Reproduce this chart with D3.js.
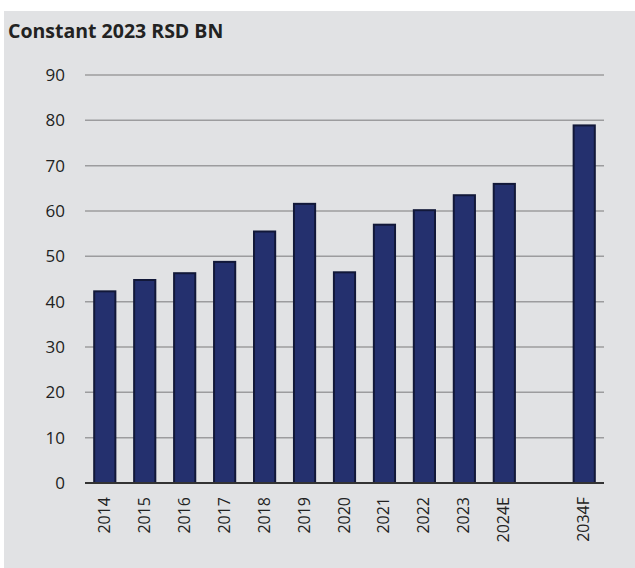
<!DOCTYPE html>
<html>
<head>
<meta charset="utf-8">
<script src="https://cdn.jsdelivr.net/npm/d3@7.9.0/dist/d3.min.js"></script>
<style>
  body { margin: 0; background: #fff; }
  text { font-family: "Open Sans", "DejaVu Sans", sans-serif; fill: #222; }
</style>
</head>
<body>
<svg width="635" height="568"></svg>
<script>
// data
const years = ['2014', '2015', '2016', '2017', '2018', '2019', '2020', '2021', '2022', '2023', '2024E', '', '2034F'];
const values = [42.5, 45, 46.5, 49, 55.7, 61.8, 46.7, 57.2, 60.4, 63.7, 66.2, null, 79.1];
const yTicks = [0, 10, 20, 30, 40, 50, 60, 70, 80, 90];
const title = 'Constant 2023 RSD BN';

const svg = d3.select('svg');

// grey panel
svg.append('rect')
  .attr('x', 4).attr('y', 11)
  .attr('width', 631).attr('height', 557)
  .attr('fill', '#e1e2e4');

svg.append('text')
  .attr('x', 8).attr('y', 38)
  .attr('font-size', 19.5)
  .attr('font-weight', 'bold')
  .text(title);

let x = d3.scaleBand().domain(years).range([85, 604]).paddingInner(0.47).paddingOuter(0.23);
let y = d3.scaleLinear().domain([0, 90]).range([483, 75]);

// gridlines
svg.append('g')
  .selectAll('line')
  .data(yTicks.filter(d => d > 0))
  .join('line')
  .attr('x1', 85).attr('x2', 604)
  .attr('y1', d => y(d)).attr('y2', d => y(d))
  .attr('stroke', '#9c9c9e')
  .attr('stroke-width', 1.5);

// y labels
svg.append('g')
  .selectAll('text')
  .data(yTicks)
  .join('text')
  .attr('x', 65)
  .attr('y', d => y(d))
  .attr('dy', '0.35em')
  .attr('text-anchor', 'end')
  .attr('font-size', 17)
  .text(d => d);

// bars
let data = years.map((yr, i) => ({ year: yr, value: values[i] })).filter(d => d.value != null);
svg.append('g')
  .selectAll('rect')
  .data(data)
  .join('rect')
  .attr('x', d => x(d.year))
  .attr('y', d => y(d.value) + 1)
  .attr('width', x.bandwidth())
  .attr('height', d => y(0) - y(d.value) - 1)
  .attr('fill', '#24306e')
  .attr('stroke', '#121839')
  .attr('stroke-width', 2);

// baseline
svg.append('line')
  .attr('x1', 85).attr('x2', 604)
  .attr('y1', y(0)).attr('y2', y(0))
  .attr('stroke', '#333')
  .attr('stroke-width', 2);

// x labels, rotated
svg.append('g')
  .selectAll('text')
  .data(data)
  .join('text')
  .attr('transform', d => `translate(${x(d.year) + x.bandwidth() / 2 + 5},497) rotate(-90)`)
  .attr('text-anchor', 'end')
  .attr('font-size', 16)
  .text(d => d.year);
</script>
</body>
</html>
